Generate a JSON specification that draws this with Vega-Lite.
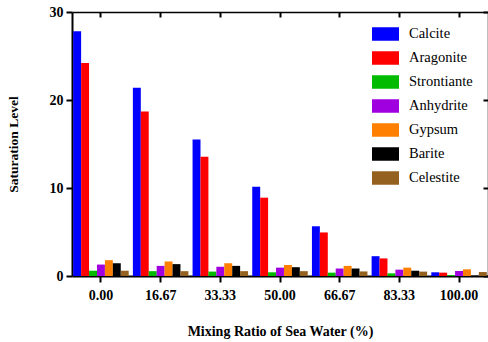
{
  "$schema": "https://vega.github.io/schema/vega-lite/v6.json",
  "width": 416,
  "height": 264,
  "autosize": "none",
  "padding": {"left": 72, "top": 12, "right": 0, "bottom": 66},
  "data": {
    "values": [
      {"ratio": "0.00", "mineral": "Calcite", "value": 27.8},
      {"ratio": "0.00", "mineral": "Aragonite", "value": 24.2},
      {"ratio": "0.00", "mineral": "Strontiante", "value": 0.6},
      {"ratio": "0.00", "mineral": "Anhydrite", "value": 1.3},
      {"ratio": "0.00", "mineral": "Gypsum", "value": 1.8},
      {"ratio": "0.00", "mineral": "Barite", "value": 1.45},
      {"ratio": "0.00", "mineral": "Celestite", "value": 0.6},
      {"ratio": "16.67", "mineral": "Calcite", "value": 21.4},
      {"ratio": "16.67", "mineral": "Aragonite", "value": 18.7},
      {"ratio": "16.67", "mineral": "Strontiante", "value": 0.55},
      {"ratio": "16.67", "mineral": "Anhydrite", "value": 1.15},
      {"ratio": "16.67", "mineral": "Gypsum", "value": 1.65},
      {"ratio": "16.67", "mineral": "Barite", "value": 1.35},
      {"ratio": "16.67", "mineral": "Celestite", "value": 0.55},
      {"ratio": "33.33", "mineral": "Calcite", "value": 15.5},
      {"ratio": "33.33", "mineral": "Aragonite", "value": 13.55},
      {"ratio": "33.33", "mineral": "Strontiante", "value": 0.5},
      {"ratio": "33.33", "mineral": "Anhydrite", "value": 1.05},
      {"ratio": "33.33", "mineral": "Gypsum", "value": 1.45},
      {"ratio": "33.33", "mineral": "Barite", "value": 1.15},
      {"ratio": "33.33", "mineral": "Celestite", "value": 0.55},
      {"ratio": "50.00", "mineral": "Calcite", "value": 10.15},
      {"ratio": "50.00", "mineral": "Aragonite", "value": 8.9},
      {"ratio": "50.00", "mineral": "Strontiante", "value": 0.42},
      {"ratio": "50.00", "mineral": "Anhydrite", "value": 0.95},
      {"ratio": "50.00", "mineral": "Gypsum", "value": 1.25},
      {"ratio": "50.00", "mineral": "Barite", "value": 1.0},
      {"ratio": "50.00", "mineral": "Celestite", "value": 0.55},
      {"ratio": "66.67", "mineral": "Calcite", "value": 5.65},
      {"ratio": "66.67", "mineral": "Aragonite", "value": 4.95},
      {"ratio": "66.67", "mineral": "Strontiante", "value": 0.38},
      {"ratio": "66.67", "mineral": "Anhydrite", "value": 0.85},
      {"ratio": "66.67", "mineral": "Gypsum", "value": 1.15},
      {"ratio": "66.67", "mineral": "Barite", "value": 0.85},
      {"ratio": "66.67", "mineral": "Celestite", "value": 0.52},
      {"ratio": "83.33", "mineral": "Calcite", "value": 2.25},
      {"ratio": "83.33", "mineral": "Aragonite", "value": 2.0},
      {"ratio": "83.33", "mineral": "Strontiante", "value": 0.3},
      {"ratio": "83.33", "mineral": "Anhydrite", "value": 0.72},
      {"ratio": "83.33", "mineral": "Gypsum", "value": 0.95},
      {"ratio": "83.33", "mineral": "Barite", "value": 0.6},
      {"ratio": "83.33", "mineral": "Celestite", "value": 0.5},
      {"ratio": "100.00", "mineral": "Calcite", "value": 0.42},
      {"ratio": "100.00", "mineral": "Aragonite", "value": 0.38},
      {"ratio": "100.00", "mineral": "Strontiante", "value": 0.1},
      {"ratio": "100.00", "mineral": "Anhydrite", "value": 0.57},
      {"ratio": "100.00", "mineral": "Gypsum", "value": 0.76},
      {"ratio": "100.00", "mineral": "Barite", "value": 0.05},
      {"ratio": "100.00", "mineral": "Celestite", "value": 0.45}
    ]
  },
  "layer": [
    {
      "mark": {"type": "bar", "stroke": null},
      "encoding": {
        "x": {
          "field": "ratio", "type": "nominal", "sort": null,
          "scale": {"paddingInner": 0.07, "paddingOuter": 0.02},
          "axis": {
            "orient": "bottom", "title": "Mixing Ratio of Sea Water (%)",
            "labelAngle": 0, "tickSize": 6, "labelPadding": 6,
            "titlePadding": 22, "labelFontSize": 14, "titleFontSize": 14
          }
        },
        "xOffset": {
          "field": "mineral", "type": "nominal",
          "sort": ["Calcite", "Aragonite", "Strontiante", "Anhydrite", "Gypsum", "Barite", "Celestite"],
          "scale": {"paddingInner": 0, "paddingOuter": 0}
        },
        "y": {
          "field": "value", "type": "quantitative",
          "scale": {"domain": [0, 30], "nice": false},
          "axis": {
            "orient": "left", "title": "Saturation Level", "values": [0, 10, 20, 30],
            "tickSize": 6, "labelPadding": 3, "titlePadding": 29, "labelFontSize": 14,
            "titleFontSize": 13.5
          }
        },
        "color": {
          "field": "mineral", "type": "nominal",
          "sort": ["Calcite", "Aragonite", "Strontiante", "Anhydrite", "Gypsum", "Barite", "Celestite"],
          "scale": {
            "domain": ["Calcite", "Aragonite", "Strontiante", "Anhydrite", "Gypsum", "Barite", "Celestite"],
            "range": ["#0000ff", "#ff0000", "#00bb00", "#a000e0", "#ff8000", "#000000", "#94621e"]
          },
          "legend": {
            "orient": "none", "legendX": 300, "legendY": 10, "title": null,
            "symbolType": "M-1,-0.5H1V0.5H-1Z", "symbolSize": 729,
            "symbolStrokeWidth": 0, "symbolOpacity": 1,
            "labelFont": "Liberation Serif", "labelFontSize": 14.5, "labelColor": "#000000",
            "labelOffset": 10, "clipHeight": 24, "rowPadding": 0, "padding": 0
          }
        }
      }
    },
    {
      "mark": {"type": "bar", "opacity": 0},
      "encoding": {
        "x": {
          "field": "ratio", "type": "nominal", "sort": null,
          "scale": {"paddingInner": 0.07, "paddingOuter": 0.02},
          "axis": {"orient": "top", "title": null, "labels": false, "tickSize": -5, "domainWidth": 1.5}
        },
        "xOffset": {
          "field": "mineral", "type": "nominal",
          "sort": ["Calcite", "Aragonite", "Strontiante", "Anhydrite", "Gypsum", "Barite", "Celestite"]
        },
        "y": {
          "field": "value", "type": "quantitative",
          "scale": {"domain": [0, 30], "nice": false},
          "axis": {"orient": "right", "title": null, "labels": false, "values": [0, 10, 20, 30], "tickSize": -5, "domainWidth": 1.5}
        }
      }
    }
  ],
  "resolve": {"axis": {"x": "independent", "y": "independent"}},
  "config": {
    "view": {"stroke": null},
    "axis": {
      "labelFont": "Liberation Serif", "labelFontWeight": "bold", "labelColor": "#000000",
      "titleFont": "Liberation Serif", "titleFontWeight": "bold", "titleColor": "#000000",
      "titleFontSize": 13, "domainColor": "#000000", "tickColor": "#000000",
      "domainWidth": 2, "tickWidth": 2, "grid": false
    }
  }
}
